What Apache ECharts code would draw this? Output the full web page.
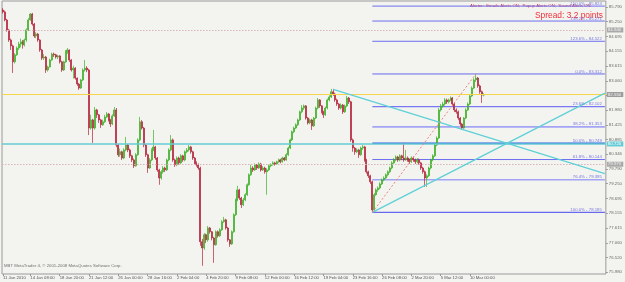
<!DOCTYPE html>
<html><head><meta charset="utf-8">
<script src="https://cdn.jsdelivr.net/npm/echarts@6/dist/echarts.min.js"></script>
<style>html,body{margin:0;padding:0;background:#f3f4ef;}#c{width:625px;height:282px;}</style>
</head><body><div id="c"></div>
<script>
// ---- H4 candles (prices) ----
const firstOpen = 85.68;
const closes = [
85.61,85.31,84.94,84.57,84.35,83.76,84.02,84.27,84.42,84.50,
84.39,84.57,84.94,85.31,85.53,85.16,84.72,84.79,84.57,84.20,
83.90,83.94,83.46,83.57,83.83,84.05,84.02,83.94,83.98,83.76,
83.46,83.76,84.13,84.20,83.83,83.46,83.53,83.16,82.94,82.79,
83.09,83.46,83.53,83.46,81.31,81.61,81.31,81.98,81.80,81.61,
81.43,81.54,81.72,81.83,81.61,81.46,81.76,81.98,80.68,80.32,
80.43,80.20,80.50,80.68,80.50,80.28,80.13,79.91,80.32,80.87,
81.54,81.31,80.68,80.32,79.83,80.13,80.50,80.61,80.20,79.76,
79.46,79.69,79.83,79.76,80.13,80.50,80.87,80.13,79.95,80.20,
80.02,80.28,80.13,80.43,80.50,80.61,80.43,80.20,80.02,79.95,
79.83,77.10,76.87,77.36,77.17,77.61,77.47,77.24,76.99,77.47,
77.32,77.54,77.84,77.91,77.61,77.17,77.02,77.47,78.10,78.65,
79.02,78.72,78.47,78.65,78.84,79.21,79.58,79.83,79.76,79.95,
79.83,79.98,79.76,79.83,79.69,79.76,79.91,79.95,80.02,79.98,
80.06,80.13,80.06,80.20,80.13,80.32,80.57,80.87,81.17,81.31,
81.43,81.61,81.91,82.05,82.13,81.68,81.50,81.61,81.39,81.68,
82.05,82.35,82.13,81.91,81.80,82.05,82.35,82.46,82.65,82.57,
82.35,82.20,82.05,82.16,81.91,82.13,82.42,82.28,80.87,80.57,
80.43,80.50,80.32,80.57,80.61,80.13,79.69,79.54,79.32,78.28,
78.84,79.02,79.09,79.24,79.39,79.46,79.58,79.69,79.83,80.02,
80.13,80.24,80.13,80.28,80.20,80.13,80.20,80.13,80.06,80.20,
80.13,80.06,80.13,80.02,79.83,79.69,79.46,79.54,79.83,80.13,
80.28,80.68,80.94,81.98,82.13,82.20,82.35,82.28,82.35,82.42,
82.20,81.98,81.91,81.68,81.46,81.31,81.68,81.98,82.20,82.50,
82.79,83.09,83.16,82.87,82.65,82.53,82.55];
const highs = [
85.75,85.66,85.35,84.98,84.62,84.40,84.08,84.33,84.50,84.62,
84.57,84.62,85.00,85.38,85.57,85.57,85.20,84.86,84.83,84.60,
84.24,84.05,83.98,83.62,83.88,84.10,84.10,84.06,84.02,84.01,
83.80,83.80,84.20,84.27,84.22,83.86,83.62,83.56,83.18,82.98,
83.13,83.52,83.83,83.60,83.50,81.80,81.65,82.09,82.02,81.83,
81.65,81.62,81.80,81.90,81.87,81.65,81.82,82.09,82.05,80.72,
80.55,80.47,80.56,80.98,80.72,80.55,80.32,80.18,80.38,80.93,
81.72,81.60,81.35,80.72,80.36,80.20,80.56,81.24,80.65,80.24,
79.80,79.75,79.90,79.88,80.18,80.56,81.05,80.92,80.18,80.26,
80.25,80.34,80.32,80.48,80.57,80.68,80.65,80.47,80.24,80.08,
80.00,79.88,77.20,77.42,77.40,77.68,77.65,77.50,77.28,77.52,
77.52,77.60,77.90,78.02,77.95,77.65,77.20,77.52,78.15,78.70,
79.17,79.06,78.76,78.72,78.90,79.26,79.63,79.95,79.90,80.00,
79.98,80.04,80.02,79.90,79.88,79.82,79.96,80.00,80.08,80.06,
80.10,80.18,80.17,80.25,80.24,80.38,80.62,80.92,81.22,81.36,
81.48,81.66,81.96,82.16,82.18,82.16,81.72,81.66,81.65,81.72,
82.10,82.42,82.38,82.16,81.95,82.10,82.40,82.52,82.76,82.76,
82.62,82.40,82.24,82.22,82.20,82.18,82.50,82.46,82.32,80.92,
80.61,80.56,80.54,80.62,80.68,80.65,80.17,79.73,79.58,79.36,
78.90,79.08,79.15,79.30,79.44,79.52,79.63,79.74,79.88,80.08,
80.20,80.30,80.28,80.34,80.32,80.76,80.50,80.26,80.18,80.26,
80.26,80.18,80.20,80.18,80.06,79.88,79.74,79.60,79.88,80.18,
80.34,80.74,81.00,82.05,82.20,82.28,82.42,82.40,82.40,82.48,
82.46,82.24,82.04,81.96,81.72,81.50,81.72,82.04,82.26,82.56,
82.85,83.15,83.31,83.20,82.92,82.70,82.60];
const lows = [
85.55,85.26,84.88,84.50,84.20,83.35,83.70,83.98,84.20,84.30,
84.25,84.33,84.50,84.90,85.28,85.10,84.65,84.64,84.50,84.13,
83.83,83.83,83.35,83.40,83.55,83.80,83.94,83.88,83.86,83.70,
83.39,83.42,83.72,84.06,83.76,83.40,83.14,83.10,82.87,82.72,
82.76,83.05,83.40,83.38,81.05,81.25,80.76,81.25,81.68,81.50,
81.31,81.39,81.50,81.68,81.55,81.35,81.42,81.72,80.60,80.24,
80.25,80.13,80.16,80.45,80.42,80.20,80.05,79.83,79.88,80.28,
80.82,81.25,80.60,80.24,79.65,79.80,80.08,80.45,80.13,79.69,
79.21,79.40,79.62,79.68,79.72,80.08,80.45,80.06,79.87,79.90,
79.95,79.98,80.06,80.08,80.38,80.44,80.36,80.13,79.95,79.88,
79.76,76.95,76.21,76.80,77.05,77.10,77.40,77.15,76.32,76.95,
77.25,77.28,77.50,77.80,77.55,77.10,76.91,76.98,77.43,78.05,
78.60,78.65,78.35,78.42,78.60,78.80,79.17,79.54,79.68,79.72,
79.76,79.80,79.70,79.72,79.62,78.84,79.72,79.86,79.92,79.92,
79.94,80.02,80.00,80.03,80.08,80.10,80.28,80.53,80.83,81.12,
81.27,81.38,81.57,81.86,81.98,81.62,81.44,81.45,81.24,81.35,
81.64,82.00,82.06,81.85,81.68,81.76,82.00,82.30,82.42,82.50,
82.28,82.13,81.98,82.00,81.83,81.87,82.08,82.20,80.80,80.43,
80.32,80.38,80.20,80.28,80.50,80.06,79.62,79.46,79.24,78.185,
78.24,78.80,78.95,79.04,79.20,79.34,79.42,79.52,79.64,79.78,
79.98,80.08,80.06,80.08,80.12,80.06,80.10,80.06,79.98,80.02,
80.06,79.98,80.00,79.95,79.76,79.62,79.13,79.13,79.50,79.78,
80.08,80.24,80.64,80.90,81.92,82.06,82.14,82.20,82.22,82.30,
82.13,81.90,81.84,81.60,81.38,81.24,81.28,81.64,81.94,82.16,
82.46,82.75,83.02,82.80,82.58,82.24,82.48];

// ---- axes ----
const slotCount = 309;                 // bar slots across the plot incl. empty right shift
const xTickBars = [0,14,29,44,59,74,89,104,119,134,149,164,179,194,209,224,239];
const xTickLabels = ['11 Jan 2010','14 Jan 08:00','18 Jan 20:00','21 Jan 12:00','26 Jan 00:00',
  '28 Jan 16:00','2 Feb 04:00','4 Feb 20:00','9 Feb 08:00','12 Feb 00:00','16 Feb 12:00',
  '19 Feb 04:00','23 Feb 16:00','26 Feb 08:00','2 Mar 20:00','5 Mar 12:00','10 Mar 00:00'];
const yMin = 75.906, yMax = 86.013;
const yTickValues = [85.790,85.250,84.695,84.155,83.615,83.060,82.520,81.980,81.425,80.885,
  80.346,79.790,79.250,78.695,78.155,77.615,77.060,76.520,75.980];

// ---- objects drawn on the chart ----
const fibNames  = ['150.0%','138.2%','123.6%','0.0%','23.6%','38.2%','50.0%','61.8%','76.4%','100.0%'];
const fibValues = [85.824,85.271,84.522,83.312,82.102,81.353,80.749,80.144,79.395,78.185];
const fibFromBar = 189, lastSlot = 308;
const trendDown = [[169, 82.74], [308, 79.62]];
const trendUp   = [[189, 78.185], [308, 82.60]];
const fibDiagonal = [[189, 78.185], [242, 83.312]];
const hLineValues = {yellow: 82.55, cyan: 80.72, dotTop: 84.94, dotLow: 79.97};

const chart = echarts.init(document.getElementById('c'), null, {width:625, height:282});
const FONT = 'Liberation Sans';
const opens = [firstOpen].concat(closes.slice(0, -1)); // each H4 bar opens at the prior close
const candleData = closes.map((c, i) => [opens[i], c, lows[i], highs[i]]);
const categories = Array.from({length: slotCount}, (_, i) => String(i));
const tickSet = new Set(xTickBars);
const tickMap = {}; xTickBars.forEach((b, k) => tickMap[b] = xTickLabels[k]);

const fibColors = ['#6e6ef0','#6e6ef0','#6e6ef0','#6868ee','#7878f2','#a4a4f6','#2f5fe0','#6e6ef0','#a4a4f6','#6868ee'];
const fibWidths = [1,1,1,1,1.2,1.6,1.4,1,1.6,1.2];

const fibSeries = fibValues.map((v, k) => ({
  type: 'line', silent: true, z: 3, symbol: 'none',
  data: [[fibFromBar, v], [lastSlot, v]],
  lineStyle: {color: fibColors[k], width: fibWidths[k], type: 'solid'}
}));
const fibLabelPts = fibValues.map((v, k) => ({value: [lastSlot, v], name: fibNames[k] + ' - ' + v.toFixed(3)}));

function boxLabel(bg, fg) {
  return {show: true, position: 'end', distance: 1, formatter: p => p.value.toFixed(3),
    backgroundColor: bg, color: fg, fontSize: 4.4, fontFamily: FONT, padding: [1, 2, 0, 1]};
}

const option = {
  animation: false,
  backgroundColor: '#f3f4ef',
  grid: {left: 2, right: 18, top: 1, bottom: 8, show: true, borderColor: '#9a9a9a', borderWidth: 1},
  xAxis: {
    type: 'category', data: categories, boundaryGap: true,
    axisLine: {show: false},
    axisTick: {show: true, interval: i => tickSet.has(i), length: 2, alignWithLabel: true, lineStyle: {color: '#999'}},
    axisLabel: {interval: i => tickSet.has(i), formatter: (v, i) => tickMap[i] || '', align: 'left',
      showMinLabel: true, fontSize: 4.2, color: '#555', margin: 2, fontFamily: FONT},
    splitLine: {show: false}
  },
  yAxis: {
    type: 'value', position: 'right', min: yMin, max: yMax,
    axisLine: {show: false},
    axisTick: {show: true, customValues: yTickValues, length: 2, lineStyle: {color: '#999'}},
    axisLabel: {customValues: yTickValues, formatter: v => v.toFixed(3), fontSize: 4.3, color: '#6a6a6a', margin: 3, fontFamily: FONT},
    splitLine: {show: false}
  },
  series: [
    { type: 'line', data: [], silent: true, z: 2,
      markLine: { silent: true, symbol: 'none', animation: false, data: [
        {yAxis: hLineValues.dotTop, lineStyle: {color: '#d8b4b8', type: [1.5, 1.5], width: 1}, label: boxLabel('#a9a9a9', '#f2f2f2')},
        {yAxis: hLineValues.yellow, lineStyle: {color: '#f5d54a', type: 'solid', width: 1.2}, label: boxLabel('#9c9c9c', '#f4f4f4')},
        {yAxis: hLineValues.cyan, lineStyle: {color: '#64ccd6', type: 'solid', width: 1.6}, label: boxLabel('#64ccd6', '#ffffff')},
        {yAxis: hLineValues.dotLow, lineStyle: {color: '#d8b4b8', type: [1.5, 1.5], width: 1}, label: boxLabel('#a9a9a9', '#f2f2f2')}
      ]}
    },
    ...fibSeries,
    { type: 'candlestick', data: candleData, barWidth: 1.5, z: 4,
      itemStyle: {color: '#3cb027', color0: '#b5213a', borderColor: '#3cb027', borderColor0: '#b5213a', borderWidth: 0.7}
    },
    { type: 'line', data: trendDown, symbol: 'none', z: 5, lineStyle: {color: '#5fd0d8', width: 1.3} },
    { type: 'line', data: trendUp, symbol: 'none', z: 5, lineStyle: {color: '#5fd0d8', width: 1.3} },
    { type: 'line', data: fibDiagonal, symbol: 'none', z: 5, lineStyle: {color: '#f28080', width: 1, type: [2, 2]} },
    { type: 'scatter', data: fibLabelPts, symbolSize: 0, z: 6, silent: true,
      label: {show: true, position: 'left', distance: 3, offset: [0, -2.6], formatter: p => p.name,
        fontSize: 4.3, color: '#5656e0', fontFamily: FONT} }
  ],
  graphic: [
    {type: 'text', left: 470, top: 4, style: {text: 'Alerter:  Emails Alerts ON;  Popup Alerts ON;  Sound Alerts ON', fill: '#d2263a', font: '4.3px Liberation Sans'}},
    {type: 'text', left: 535, top: 12, style: {text: 'Spread: 3.2 points', fill: '#f0303c', font: '8.4px Liberation Sans'}},
    {type: 'text', left: 4, top: 264, style: {text: 'MBT MetaTrader 4, © 2001-2008 MetaQuotes Software Corp.', fill: '#707070', font: '4.3px Liberation Sans'}}
  ]
};
chart.setOption(option);
</script>
</body></html>
